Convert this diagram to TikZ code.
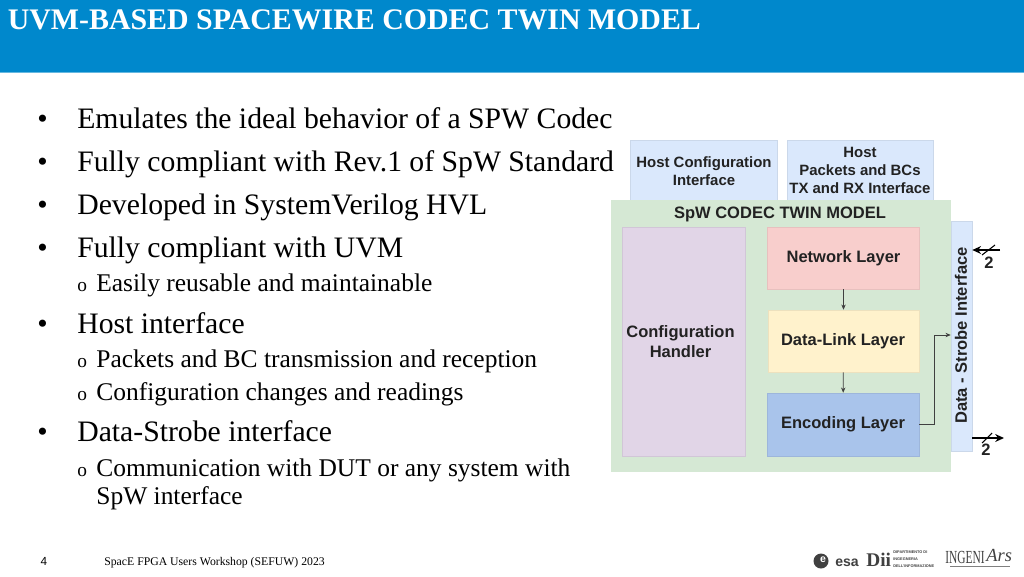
\documentclass[tikz,border=0pt]{standalone}
\usepackage{graphicx}
\usepackage{fontspec}
\setmainfont{Liberation Serif}
\newfontfamily\arialfont{Liberation Sans}
\usetikzlibrary{arrows.meta,calc}
\definecolor{headblue}{HTML}{0088CC}
\definecolor{hostblue}{HTML}{DAE8FC}
\definecolor{twingreen}{HTML}{D5E8D4}
\definecolor{cfgpurple}{HTML}{E1D5E7}
\definecolor{netred}{HTML}{F8CECC}
\definecolor{linkyellow}{HTML}{FFF2CC}
\definecolor{encblue}{HTML}{A9C4EB}
\definecolor{boxtext}{HTML}{222222}
\tikzset{
    maintext/.style={anchor=base west,inner sep=0pt,font=\fontsize{16.9}{19}\selectfont},
    subtext/.style={anchor=base west,inner sep=0pt,font=\fontsize{14.5}{16}\selectfont},
    blk/.style={draw=#1!93!black,line width=0.3pt,fill=#1},
    blktext/.style={inner sep=0pt,align=center,text=boxtext,font=\arialfont\bfseries\fontsize{#1}{10.3}\selectfont},
    arr/.style={draw=black!75,line width=0.4pt,-{Stealth[length=3pt,width=2.5pt]}},
    bus/.style={draw=black,line width=0.8pt,-{Stealth[length=5pt,width=4.5pt]}},
    logo/.style={inner sep=0pt,text=black!75,anchor=base west},
}
\begin{document}
\begin{tikzpicture}[x=0.02cm,y=-0.02cm]
                \useasboundingbox(0,0)rectangle(1024,576);
                % header
                \node[fill=headblue,minimum width=20.48cm,minimum height=1.44cm,inner sep=0pt](head)at(512,36){};
                \draw[headblue!60!white,line width=0.5pt](head.south west)--(head.south east);
                \node[anchor=base west,inner sep=0pt,text=white,font=\bfseries\fontsize{17}{19}\selectfont](title)at(7.5,29){UVM-BASED SPACEWIRE CODEC TWIN MODEL};
                % left text
                \node[maintext](b1)at(37,128.5){•};
                \node[maintext](t1)at(77,128.5){Emulates the ideal behavior of a SPW Codec};
                \node[maintext](b2)at(37,171){•};
                \node[maintext](t2)at(77,171){Fully compliant with Rev.1 of SpW Standard};
                \node[maintext](b3)at(37,214.5){•};
                \node[maintext](t3)at(77,214.5){Developed in SystemVerilog HVL};
                \node[maintext](b4)at(37,257.5){•};
                \node[maintext](t4)at(77,257.5){Fully compliant with UVM};
                \node[subtext](o1)at(77,291){\fontsize{11}{13}\selectfont o};
                \node[subtext](s1)at(96,291){Easily reusable and maintainable};
                \node[maintext](b5)at(37,333){•};
                \node[maintext](t5)at(77,333){Host interface};
                \node[subtext](o2)at(77,367){\fontsize{11}{13}\selectfont o};
                \node[subtext](s2)at(96,367){Packets and BC transmission and reception};
                \node[subtext](o3)at(77,400){\fontsize{11}{13}\selectfont o};
                \node[subtext](s3)at(96,400){Configuration changes and readings};
                \node[maintext](b6)at(37,441.5){•};
                \node[maintext](t6)at(77,441.5){Data-Strobe interface};
                \node[subtext](o4)at(77,476){\fontsize{11}{13}\selectfont o};
                \node[subtext](s4)at(96,476){Communication with DUT or any system with};
                \node[subtext](s5)at(96,504){SpW interface};
                % block diagram
                \node[blk=hostblue,minimum width=2.94cm,minimum height=1.2cm](hostcfg)at(703.5,170){};
                \node[blktext=8.5](hostcfgtxt)at(704,171){Host Configuration\\Interface};
                \node[blk=hostblue,minimum width=2.92cm,minimum height=1.2cm](hostpkt)at(860,170){};
                \node[blktext=8.5](hostpkttxt)at(860,170.5){Host\\Packets and BCs\\TX and RX Interface};
                \node[blk=hostblue,minimum width=0.42cm,minimum height=4.6cm](strobe)at(961.5,336){};
                \node[blktext=9.4,rotate=90](strobetxt)at(961,335.5){Data - Strobe Interface};
                \node[fill=twingreen,minimum width=6.8cm,minimum height=5.44cm,inner sep=0pt](twin)at(781,336){};
                \node[blktext=9.4](twintxt)at(780,214){SpW CODEC TWIN MODEL};
                \node[blk=cfgpurple,minimum width=2.46cm,minimum height=4.58cm](cfg)at(683.5,341.5){};
                \node[blktext=9.4](cfgtxt)at(680.5,341.5){Configuration\\[1pt]Handler};
                \node[blk=netred,minimum width=3.04cm,minimum height=1.24cm](net)at(843.5,258){};
                \node[blktext=9.4](nettxt)at(843.5,258){Network Layer};
                \node[blk=linkyellow,minimum width=3.02cm,minimum height=1.24cm](link)at(843.5,341){};
                \node[blktext=9.4](linktxt)at(843,341){Data-Link Layer};
                \node[blk=encblue,minimum width=3.04cm,minimum height=1.26cm](enc)at(843,424.5){};
                \node[blktext=9.4](enctxt)at(843,424.5){Encoding Layer};
                \draw[arr](net)--(link);
                \draw[arr](link)--(enc);
                \coordinate(elbow)at(934,335);
                \draw[arr](enc.east)-|(elbow)--(elbow-|strobe.west);
                % bus arrows
                \coordinate(busin)at(1000,250);
                \coordinate(busout)at(1004,438);
                \draw[bus](busin)--(busin-|strobe.east);
                \draw[bus](busout-|strobe.east)--(busout);
                \draw[line width=0.6pt](982,255)--(995,245);
                \draw[line width=0.6pt](982,443)--(992,433);
                \node[blktext=9.4](buslblin)at(989,263){2};
                \node[blktext=9.4](buslblout)at(986,450){2};
                % footer
                \node[anchor=base,inner sep=0pt,font=\arialfont\fontsize{6.7}{8}\selectfont](pagenum)at(44,565){4};
                \node[anchor=base west,inner sep=0pt,font=\fontsize{6.68}{8}\selectfont](foot)at(104,565){SpacE FPGA Users Workshop (SEFUW) 2023};
                \fill[black!75](821,561)circle(7.5);
                \node[inner sep=0pt,text=white,font=\arialfont\bfseries\fontsize{6}{7}\selectfont](esae)at(823,560){e};
                \node[logo,font=\arialfont\bfseries\fontsize{8}{10}\selectfont](esa)at(835,566){esa};
                \node[logo,font=\bfseries\fontsize{11}{12}\selectfont](dii)at(866,566){Dii};
                \node[logo,align=left,font=\arialfont\bfseries\fontsize{2.2}{3.9}\selectfont,anchor=south west](diitxt)at(893,568){DIPARTIMENTO DI\\INGEGNERIA\\DELL'INFORMAZIONE};
                \node[logo,font=\fontsize{10.5}{12}\selectfont](ingeni)at(945,563){\scalebox{0.62}[1]{INGENI}};
                \node[logo,font=\itshape\fontsize{10.5}{12}\selectfont](ars)at(986,561){Ars};
                \draw[black!50,line width=0.4pt](950,566)--(1010,566);
\end{tikzpicture}
\end{document}
